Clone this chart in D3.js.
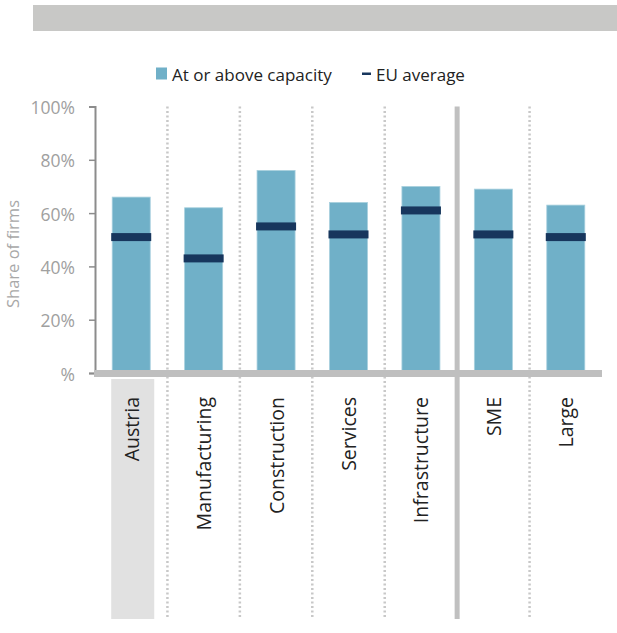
<!DOCTYPE html>
<html><head><meta charset="utf-8">
<script src="https://cdn.jsdelivr.net/npm/d3@7"></script>
<style>body{margin:0;background:#fff;font-family:"Open Sans",sans-serif}</style>
</head><body><svg id="c" width="617" height="633"></svg>
<script>
const categories = ["Austria","Manufacturing","Construction","Services","Infrastructure","SME","Large"];
const capacity = [66,62,76,64,70,69,63];
const euAverage = [51,43,55,52,61,52,51];
const yTicks = [0,20,40,60,80,100];
const seriesNames = ["At or above capacity","EU average"];

const svg = d3.select("#c");
const left = 95, right = 602, plotTop = 106.5, base = 373, labelBottom = 619;
const x = d3.scaleBand().domain(categories).range([left,right]).paddingInner(0.475).paddingOuter(0.2375);
const y = d3.scaleLinear().domain([0,100]).range([base,plotTop]);

// top banner
svg.append("rect").attr("x",33).attr("y",5).attr("width",584).attr("height",26).attr("fill","#c8c8c6");

// Austria highlight box
svg.append("rect").attr("x",x("Austria")-1).attr("y",379).attr("width",x.bandwidth()+5).attr("height",labelBottom-379).attr("fill","#e1e1e1");

// separators
const step = x.step();
categories.slice(1).forEach((c,i)=>{
  const sx = x(c) - (step - x.bandwidth())/2;
  const solid = c === "SME";
  svg.append("line").attr("x1",sx).attr("x2",sx).attr("y1",plotTop).attr("y2",labelBottom)
    .attr("stroke",solid?"#c0c0c0":"#c8c8c8").attr("stroke-width",solid?5:2.5)
    .attr("stroke-dasharray",solid?null:"2,2.5");
});

// bars
svg.append("g").selectAll("rect").data(categories).join("rect")
  .attr("x",d=>x(d)).attr("width",x.bandwidth())
  .attr("y",(d,i)=>y(capacity[i])).attr("height",(d,i)=>base-y(capacity[i]))
  .attr("fill","#70b0c8").attr("stroke","#a8d0de").attr("stroke-width",0.8);

// EU marks
svg.append("g").selectAll("rect").data(categories).join("rect")
  .attr("x",d=>x(d)-1).attr("width",x.bandwidth()+2)
  .attr("y",(d,i)=>y(euAverage[i])-4).attr("height",8)
  .attr("fill","#17365d");

// y axis
const ya = svg.append("g").attr("transform",`translate(${left},0)`)
  .call(d3.axisLeft(y).tickValues(yTicks).tickSize(6).tickPadding(14).tickFormat(d=>d===0?"%":d+"%"));
ya.select(".domain").attr("stroke","#8c8c8c").attr("stroke-width",2);
ya.selectAll(".tick line").attr("stroke","#8c8c8c").attr("stroke-width",1.5);
ya.selectAll(".tick text").attr("fill","#a0a0a0").attr("font-size",17.5).attr("font-family","Open Sans").attr("dy","0.4em");

// x axis thick line
svg.append("line").attr("x1",left-1).attr("x2",right).attr("y1",base+0.5).attr("y2",base+0.5)
  .attr("stroke","#bfbfbf").attr("stroke-width",7);

// x labels
svg.append("g").selectAll("text").data(categories).join("text")
  .attr("transform",d=>`translate(${x(d)+x.bandwidth()/2+7.5},397) rotate(-90)`)
  .attr("text-anchor","end").attr("font-size",19.5).attr("fill","#222")
  .text(d=>d);

// y title
svg.append("text").attr("transform","translate(19,254) rotate(-90)").attr("text-anchor","middle")
  .attr("font-size",16.5).attr("fill","#a8a8a8").text("Share of firms");

// legend
svg.append("rect").attr("x",156).attr("y",67.5).attr("width",11).attr("height",12).attr("fill","#70b0c8");
svg.append("text").attr("x",172).attr("y",81).attr("font-size",17).attr("fill","#222").text(seriesNames[0]);
svg.append("rect").attr("x",362).attr("y",72.5).attr("width",9).attr("height",2.5).attr("fill","#17365d");
svg.append("text").attr("x",376).attr("y",81).attr("font-size",17).attr("fill","#222").text(seriesNames[1]);
</script></body></html>
